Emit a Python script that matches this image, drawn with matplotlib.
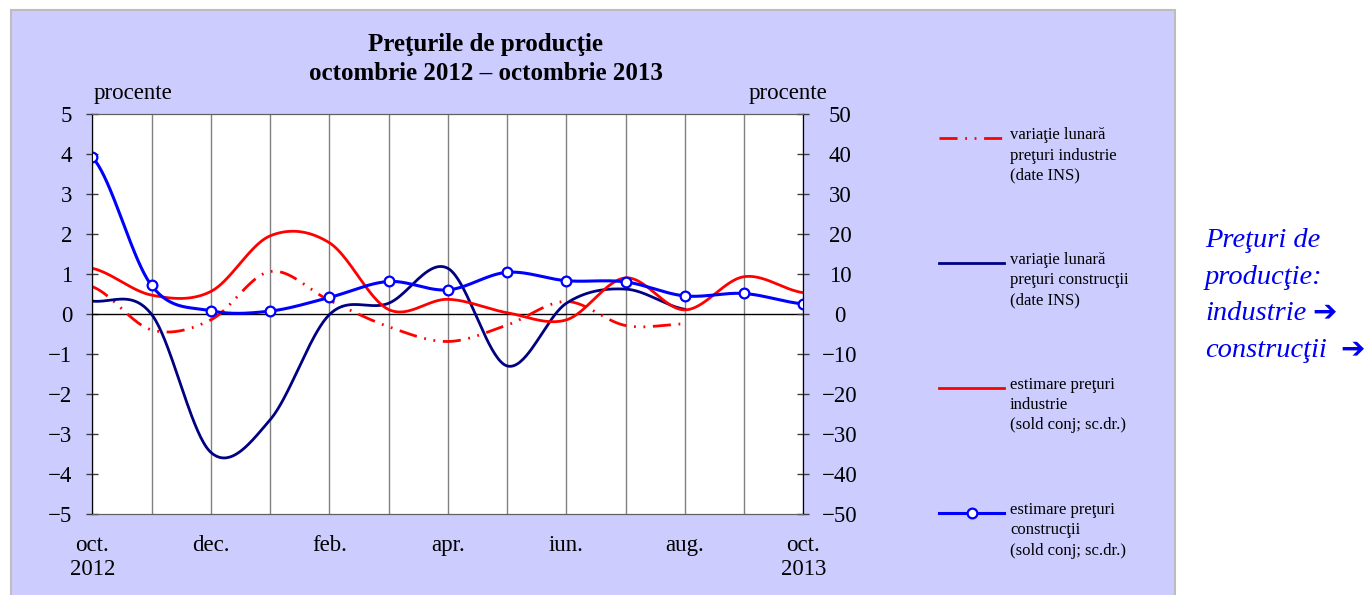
import numpy as np
import matplotlib
matplotlib.use("Agg")
import matplotlib.pyplot as plt
from matplotlib.patches import Rectangle
from matplotlib.lines import Line2D

plt.rcParams['font.family'] = ['Liberation Serif', 'DejaVu Serif']
plt.rcParams['lines.scale_dashes'] = False

# ---------------- data ----------------
month_labels = ['oct.\n2012', '', 'dec.', '', 'feb.', '', 'apr.', '', 'iun.', '', 'aug.', '', 'oct.\n2013']
# left axis (percent) - monthly change, INS data (oct 2012 .. aug 2013)
ind_monthly = [0.69, -0.39, -0.14, 1.07, 0.35, -0.31, -0.68, -0.27, 0.32, -0.28, -0.24]
cons_monthly = [0.33, 0.0, -3.45, -2.64, -0.01, 0.275, 1.15, -1.29, 0.275, 0.63, 0.125]
# right axis - balance of opinions (oct 2012 .. oct 2013)
ind_sold = [11.5, 4.8, 5.7, 19.6, 17.9, 1.2, 3.75, 0.4, -1.4, 9.1, 1.1, 9.4, 5.4]
cons_sold = [39.3, 7.2, 0.9, 0.8, 4.2, 8.2, 6.1, 10.5, 8.4, 8.1, 4.6, 5.2, 2.6]

legend_labels = ['variaţie lunară\npreţuri industrie\n(date INS)',
                 'variaţie lunară\npreţuri construcţii\n(date INS)',
                 'estimare preţuri\nindustrie\n(sold conj; sc.dr.)',
                 'estimare preţuri\nconstrucţii\n(sold conj; sc.dr.)']


def smooth(y, n=40):
    """Catmull-Rom smoothing (like Excel's smoothed lines)."""
    y = np.asarray(y, float)
    x = np.arange(len(y), dtype=float)
    p = np.concatenate([[y[0]], y, [y[-1]]])
    xs, ys = [], []
    for i in range(len(y) - 1):
        p0, p1, p2, p3 = p[i], p[i + 1], p[i + 2], p[i + 3]
        m1 = (p2 - p0) / 2.0
        m2 = (p3 - p1) / 2.0
        t = np.linspace(0, 1, n, endpoint=(i == len(y) - 2))
        h00 = 2 * t**3 - 3 * t**2 + 1
        h10 = t**3 - 2 * t**2 + t
        h01 = -2 * t**3 + 3 * t**2
        h11 = t**3 - t**2
        xs.append(x[i] + t)
        ys.append(h00 * p1 + h10 * m1 + h01 * p2 + h11 * m2)
    return np.concatenate(xs), np.concatenate(ys)


W, H = 1368, 595
fig = plt.figure(figsize=(W / 100, H / 100), dpi=100)
fig.patch.set_facecolor('white')

# lavender panel
panel = Rectangle((11 / W, -0.02), (1175 - 11) / W, (595 - 10) / H + 0.02,
                  transform=fig.transFigure, facecolor='#CCCCFF',
                  edgecolor='#BDBDBD', linewidth=1.5, zorder=0)
fig.add_artist(panel)

ax = fig.add_axes([92.3 / W, 1 - 514.3 / H, (803.3 - 92.3) / W, (514.3 - 114.3) / H])
ax.set_facecolor('white')
ax.set_zorder(1)
ax2 = ax.twinx()
ax2.set_zorder(2)

RED = '#FF0000'
NAVY = '#000080'
BLUE = '#0000FF'
dashdot2 = (0, (13, 5.5, 1.3, 5.5, 1.3, 5.5))

xs, ys = smooth(ind_monthly)
ax.plot(xs, ys, color=RED, lw=2.0, linestyle=dashdot2, dash_capstyle='butt')
xs, ys = smooth(cons_monthly)
ax.plot(xs, ys, color=NAVY, lw=2.0)
xs, ys = smooth(ind_sold)
ax2.plot(xs, ys, color=RED, lw=2.0)
xs, ys = smooth(cons_sold)
ax2.plot(xs, ys, color=BLUE, lw=2.2)
ax2.plot(np.arange(len(cons_sold)), cons_sold, linestyle='none', marker='o',
         markersize=7, markerfacecolor='white', markeredgecolor=BLUE, markeredgewidth=1.6)

ax.axhline(0, color='black', lw=1.0, zorder=1.5)

ax.set_xlim(0, 12)
ax.set_ylim(-5, 5)
ax2.set_ylim(-50, 50)
ax.set_yticks(range(-5, 6))
ax.set_yticklabels([str(v).replace('-', '\u2212') for v in range(-5, 6)])
ax2.set_yticks(range(-50, 51, 10))
ax2.set_yticklabels([str(v).replace('-', '\u2212') for v in range(-50, 51, 10)])
ax.set_xticks(range(13))
ax.set_xticklabels(month_labels, fontsize=16.5, linespacing=1.2)
ax.grid(axis='x', color='#808080', lw=1.0)
ax.set_axisbelow(True)

ax.tick_params(axis='x', length=0, pad=15)
ax.tick_params(axis='y', direction='inout', length=8, width=1, labelsize=16.5, pad=10.4, color='#404040')
ax2.tick_params(axis='y', direction='inout', length=8, width=1, labelsize=16.5, pad=22.5, color='#404040')
for t in ax2.get_yticklabels():
    t.set_horizontalalignment('center')

for a in (ax, ax2):
    a.spines['top'].set_color('#606060')
    a.spines['bottom'].set_color('#606060')
    a.spines['left'].set_color('black')
    a.spines['right'].set_color('black')

# titles
fig.text(485.5 / W, 1 - 44 / H, 'Preţurile de producţie', ha='center', va='center',
         fontsize=18, fontweight='bold')
fig.text(485.5 / W, 1 - 74 / H, 'octombrie 2012 \u2013 octombrie 2013', ha='center', va='center',
         fontsize=18, fontweight='bold')
fig.text(94 / W, 1 - 93 / H, 'procente', ha='left', va='center', fontsize=16.5)
fig.text(827 / W, 1 - 93 / H, 'procente', ha='right', va='center', fontsize=16.5)

# manual legend
leg_y = [138.3, 263.3, 388.0, 513.3]
styles = [dict(color=RED, lw=2.0, linestyle=dashdot2, dash_capstyle='butt'),
          dict(color=NAVY, lw=2.0),
          dict(color=RED, lw=2.0),
          dict(color=BLUE, lw=2.2)]
for yy, st, lab in zip(leg_y, styles, legend_labels):
    fy = 1 - yy / H
    fig.add_artist(Line2D([939 / W, 1004 / W], [fy, fy], transform=fig.transFigure, **st))
    fig.text(1010 / W, fy + 11 / H, lab, ha='left', va='top', fontsize=12, linespacing=1.35)
fy = 1 - leg_y[3] / H
fig.add_artist(Line2D([971.5 / W], [fy], transform=fig.transFigure, linestyle='none', marker='o',
                      markersize=7, markerfacecolor='white', markeredgecolor=BLUE, markeredgewidth=1.6))

# right side note
TXT = '#0000EE'
note_lines = ['Preţuri de', 'producţie:', 'industrie', 'construcţii']
note_y = [247, 284, 320, 357]
for s, yy in zip(note_lines, note_y):
    fig.text(1205 / W, 1 - yy / H, s, ha='left', va='baseline', fontsize=20.5,
             style='italic', color=TXT)
fig.text(1312 / W, 1 - 320 / H, '\u2794', ha='left', va='baseline', fontsize=21,
         color=TXT, family='DejaVu Sans', fontweight='bold')
fig.text(1340 / W, 1 - 357 / H, '\u2794', ha='left', va='baseline', fontsize=21,
         color=TXT, family='DejaVu Sans', fontweight='bold')

fig.savefig('out.png', dpi=100)
